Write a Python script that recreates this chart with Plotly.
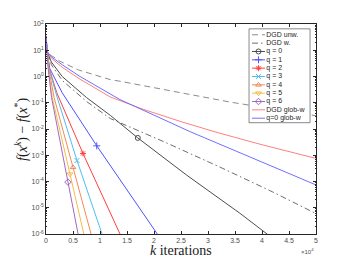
import plotly.graph_objects as go

# x values in units of 10^4 iterations
x_unw = [0, 0.02, 0.1, 0.26, 0.6, 1.19, 1.37, 2.2, 3.4, 4.2, 5]
y_unw = [35, 9.0, 6.3, 3.8, 1.78, 0.76, 0.66, 0.32, 0.107, 0.058, 0.032]

x_w = [0, 0.02, 0.1, 0.3, 0.75, 1.19, 2.2, 3.22, 4.2, 5]
y_w = [35, 9.0, 2.8, 0.71, 0.112, 0.0251, 3.16e-3, 3.55e-4, 3.98e-5, 6.0e-6]

x_q0 = [0, 0.02, 0.1, 0.3, 0.75, 1.19, 1.70, 2.6, 3.59, 4.2]
y_q0 = [35, 9.0, 3.55, 1.0, 0.158, 0.0331, 4.57e-3, 1.78e-4, 6.17e-6, 6.8e-7]

x_q1 = [0, 0.02, 0.07, 0.30, 0.94, 1.5, 2.15]
y_q1 = [35, 9.0, 2.0, 0.24, 2.29e-3, 5.0e-5, 5.4e-7]

x_q2 = [0, 0.02, 0.06, 0.2, 0.685, 1.0, 1.45]
y_q2 = [35, 9.0, 2.0, 0.24, 1.17e-3, 4.57e-5, 4.4e-7]

x_q3 = [0, 0.02, 0.055, 0.2, 0.574, 1.1]
y_q3 = [35, 9.0, 2.0, 0.178, 6.3e-4, 4.2e-7]

x_q4 = [0, 0.02, 0.05, 0.15, 0.5, 0.88]
y_q4 = [35, 9.0, 2.0, 0.158, 3.47e-4, 4.5e-7]

x_q5 = [0, 0.02, 0.045, 0.116, 0.444, 0.74]
y_q5 = [35, 9.0, 2.0, 0.158, 1.9e-4, 4.5e-7]

x_q6 = [0, 0.02, 0.04, 0.103, 0.407, 0.63]
y_q6 = [35, 9.0, 2.0, 0.158, 9.5e-5, 4.2e-7]

x_gw = [0, 0.02, 0.1, 0.3, 0.63, 1.19, 1.8, 2.5, 3.13, 4.0, 5]
y_gw = [35, 9.0, 5.0, 2.24, 0.794, 0.166, 0.0562, 0.0191, 7.76e-3, 2.51e-3, 7.6e-4]

x_q0gw = [0, 0.02, 0.1, 0.3, 0.63, 1.19, 1.37, 2.67, 3.41, 5]
y_q0gw = [35, 9.0, 5.6, 2.8, 1.0, 0.204, 0.132, 7.9e-3, 1.78e-3, 7.4e-5]

# index of the single marker drawn on each q-curve
marker_idx = [6, 4, 4, 4, 4, 4, 4]

names = ["DGD unw.", "DGD w.", "q = 0", "q = 1", "q = 2", "q = 3", "q = 4",
         "q = 5", "q = 6", "DGD glob-w", "q=0 glob-w"]

x_ticks = [0, 0.5, 1, 1.5, 2, 2.5, 3, 3.5, 4, 4.5, 5]
x_ticktext = ["0", "0.5", "1", "1.5", "2", "2.5", "3", "3.5", "4", "4.5", "5"]
y_tickvals = [1e-6, 1e-5, 1e-4, 1e-3, 1e-2, 1e-1, 1e0, 1e1, 1e2]
y_ticktext = ["10<sup>-6</sup>", "10<sup>-5</sup>", "10<sup>-4</sup>", "10<sup>-3</sup>",
              "10<sup>-2</sup>", "10<sup>-1</sup>", "10<sup>0</sup>", "10<sup>1</sup>",
              "10<sup>2</sup>"]

series = [
    (x_unw, y_unw, "#8c8c8c", "6px,4px", None),
    (x_w, y_w, "#6e6e6e", "6px,3px,1.5px,3px", None),
    (x_q0, y_q0, "#4d4d4d", None, "circle-open"),
    (x_q1, y_q1, "#5050ff", None, "cross-thin-open"),
    (x_q2, y_q2, "#ff4040", None, "asterisk-open"),
    (x_q3, y_q3, "#4dbeee", None, "x-thin-open"),
    (x_q4, y_q4, "#f08a5a", None, "triangle-up-open"),
    (x_q5, y_q5, "#f2be45", None, "triangle-down-open"),
    (x_q6, y_q6, "#a567c4", None, "diamond-open"),
    (x_gw, y_gw, "#ff8080", None, None),
    (x_q0gw, y_q0gw, "#7070ff", None, None),
]

fig = go.Figure()

for i, (xs, ys, col, dash, sym) in enumerate(series):
    line = dict(color=col, width=1)
    if dash:
        line["dash"] = dash
    fig.add_trace(go.Scatter(x=xs, y=ys, mode="lines", line=line,
                             showlegend=False, hoverinfo="skip"))
    if sym:
        k = marker_idx[i - 2]
        fig.add_trace(go.Scatter(x=[xs[k]], y=[ys[k]], mode="markers",
                                 marker=dict(symbol=sym, size=5, color=col,
                                             line=dict(color=col, width=1)),
                                 showlegend=False, hoverinfo="skip"))

# ---- hand-built legend on an overlay axis (0..1 coordinates) ----
bx0, bx1, by0, by1 = 0.752, 0.978, 0.53, 0.977
fig.add_trace(go.Scatter(x=[bx0, bx1, bx1, bx0, bx0], y=[by0, by0, by1, by1, by0],
                         mode="lines", fill="toself", fillcolor="white",
                         line=dict(color="#3a3a3a", width=0.6),
                         xaxis="x2", yaxis="y2", showlegend=False, hoverinfo="skip"))
lx0, lx1, lxm, ltx = 0.763, 0.811, 0.787, 0.816
for i, (xs, ys, col, dash, sym) in enumerate(series):
    yy = 1 - (31 + 8.5 * i - 20) / 214
    line = dict(color=col, width=1)
    if dash:
        line["dash"] = dash
    fig.add_trace(go.Scatter(x=[lx0, lx1], y=[yy, yy], mode="lines", line=line,
                             xaxis="x2", yaxis="y2", showlegend=False, hoverinfo="skip"))
    if sym:
        fig.add_trace(go.Scatter(x=[lxm], y=[yy], mode="markers",
                                 marker=dict(symbol=sym, size=5, color=col,
                                             line=dict(color=col, width=1)),
                                 xaxis="x2", yaxis="y2", showlegend=False, hoverinfo="skip"))
    fig.add_trace(go.Scatter(x=[ltx], y=[yy], mode="text", text=[names[i]],
                             textposition="middle right",
                             textfont=dict(size=7, color="#262626",
                                           family="Liberation Sans, Arial, sans-serif"),
                             xaxis="x2", yaxis="y2", showlegend=False, hoverinfo="skip"))

axis_common = dict(showline=True, linecolor="#262626", linewidth=0.7, mirror="ticks",
                   ticks="inside", ticklen=3, tickcolor="#262626", tickwidth=0.6,
                   showgrid=False, zeroline=False,
                   tickfont=dict(size=7, color="#4d4d4d",
                                 family="Liberation Sans, Arial, sans-serif"))

fig.update_layout(
    width=334, height=255,
    margin=dict(l=38, r=26, t=12, b=29),
    paper_bgcolor="white", plot_bgcolor="white",
    showlegend=False,
    xaxis=dict(range=[0, 5], tickmode="array", tickvals=x_ticks, ticktext=x_ticktext,
               **axis_common),
    yaxis=dict(type="log", range=[-6, 2], tickmode="array", tickvals=y_tickvals,
               ticktext=y_ticktext,
               minor=dict(ticks="inside", ticklen=1.5, tickcolor="#262626",
                          tickwidth=0.5, dtick="D1", showgrid=False),
               **axis_common),
    xaxis2=dict(overlaying="x", range=[0, 1], visible=False),
    yaxis2=dict(overlaying="y", range=[0, 1], visible=False),
    annotations=[
        dict(text="×10<sup>4</sup>", xref="paper", yref="paper", x=1.0, y=-0.052,
             xanchor="right", yanchor="top", showarrow=False,
             font=dict(size=6, color="#4d4d4d", family="Liberation Sans, Arial, sans-serif")),
        dict(text="<i>k</i> iterations", xref="paper", yref="paper", x=0.5, y=-0.08,
             xanchor="center", yanchor="middle", showarrow=False,
             font=dict(size=14, color="#1a1a1a", family="Liberation Serif, serif")),
        dict(text="<i>f</i>(<i>x</i><sup><i>k</i></sup>) − <i>f</i>(<i>x</i><sup>*</sup>)",
             xref="paper", yref="paper", x=-0.093, y=0.5, textangle=-90,
             xanchor="center", yanchor="middle", showarrow=False,
             font=dict(size=14, color="#1a1a1a", family="Liberation Serif, serif")),
    ],
)

fig.write_html("out.html")
